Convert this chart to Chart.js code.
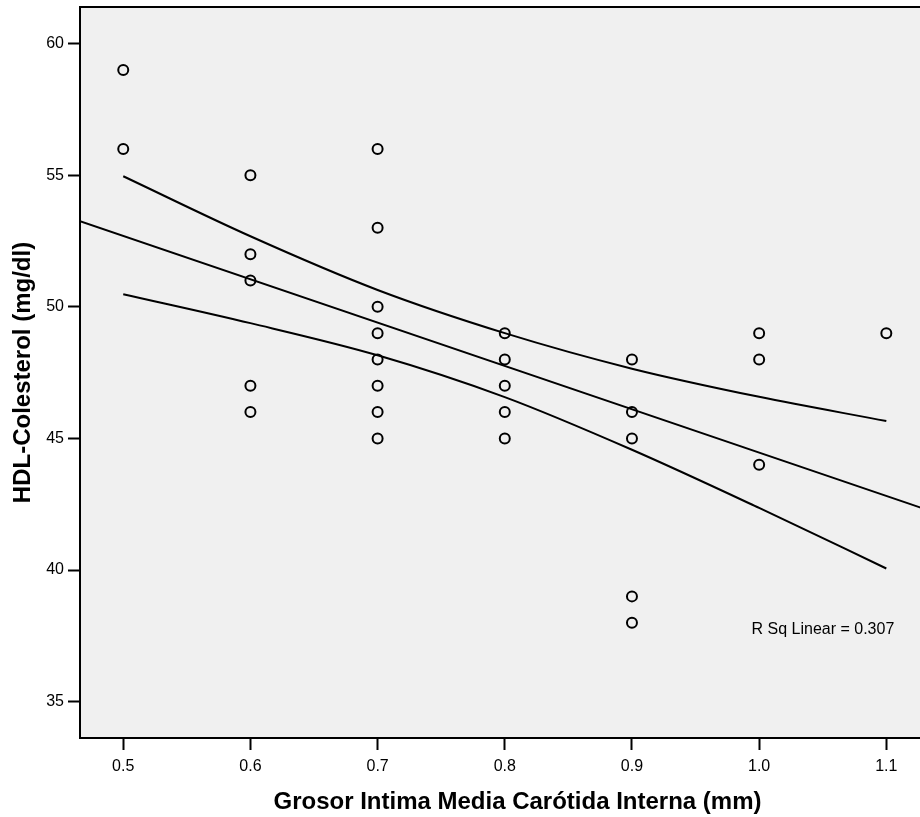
<!DOCTYPE html>
<html>
<head>
<meta charset="utf-8">
<script src="https://cdn.jsdelivr.net/npm/chart.js@4/dist/chart.umd.min.js"></script>
<style>
  html, body { margin: 0; padding: 0; background: #fff; overflow: hidden; }
  #frame { width: 920px; height: 817px; overflow: hidden; position: relative; }
  #inner { width: 962px; height: 817px; }
</style>
</head>
<body>
<div id="frame"><div id="inner"><canvas id="chart"></canvas></div></div>
<script>
// observed points (Grosor Intima Media, HDL)
const gimc = [
    0.5, 0.5,
    0.6, 0.6, 0.6, 0.6, 0.6,
    0.7, 0.7, 0.7, 0.7, 0.7, 0.7, 0.7, 0.7,
    0.8, 0.8, 0.8, 0.8, 0.8,
    0.9, 0.9, 0.9, 0.9, 0.9,
    1.0, 1.0, 1.0,
    1.1
];
const hdl = [
    59, 56,
    55, 52, 51, 47, 46,
    56, 53, 50, 49, 48, 47, 46, 45,
    49, 48, 47, 46, 45,
    48, 46, 45, 39, 38,
    49, 48, 44,
    49
];

// fit line, read at the plot edges
const fitX = [0.466, 1.127];
const fitY = [53.25, 42.37];

// 95% band
const bandX = [0.5, 0.6, 0.7, 0.8, 0.9, 1.0, 1.1];
const bandUpper = [54.96, 52.68, 50.64, 49.0, 47.65, 46.58, 45.66];
const bandLower = [50.48, 49.38, 48.16, 46.57, 44.57, 42.36, 40.06];

const xTicks = [0.5, 0.6, 0.7, 0.8, 0.9, 1.0, 1.1];
const yTicks = [35, 40, 45, 50, 55, 60];

const rsqText = "R Sq Linear = 0.307";
const rsqAt = { x: 0.994, y: 37.73 };

const FONT = "'Liberation Sans', Arial, sans-serif";

const toPoints = (xs, ys) => xs.map((x, i) => ({ x: x, y: ys[i] }));

const plotFrame = {
    id: "plotFrame",
    beforeDraw(chart) {
        const { ctx, chartArea: a } = chart;
        ctx.save();
        ctx.fillStyle = "#f0f0f0";
        ctx.fillRect(a.left, a.top, a.right - a.left, a.bottom - a.top);
        ctx.restore();
    },
    afterDraw(chart) {
        const { ctx, chartArea: a, scales } = chart;
        ctx.save();
        ctx.strokeStyle = "#000";
        ctx.lineWidth = 2;
        ctx.beginPath();
        ctx.moveTo(a.left, a.top);
        ctx.lineTo(a.right, a.top);
        ctx.lineTo(a.right, a.bottom);
        ctx.stroke();

        ctx.fillStyle = "#000";
        ctx.font = "16px " + FONT;
        ctx.textAlign = "left";
        ctx.textBaseline = "middle";
        ctx.fillText(rsqText, scales.x.getPixelForValue(rsqAt.x), scales.y.getPixelForValue(rsqAt.y));
        ctx.restore();
    }
};

const lineStyle = {
    type: "line",
    showLine: true,
    borderColor: "#000",
    borderWidth: 2,
    pointRadius: 0,
    fill: false
};

const noPad = (s) => {
    s.paddingTop = 0;
    s.paddingBottom = 0;
    s.paddingLeft = 0;
    s.paddingRight = 0;
};

new Chart(document.getElementById("chart"), {
    type: "scatter",
    data: {
        datasets: [
            {
                label: "HDL",
                data: toPoints(gimc, hdl),
                pointStyle: "circle",
                pointRadius: 5,
                pointBorderWidth: 2,
                pointBorderColor: "#000",
                pointBackgroundColor: "rgba(0,0,0,0)"
            },
            Object.assign({ label: "Fit", data: toPoints(fitX, fitY) }, lineStyle),
            Object.assign({ label: "Upper", data: toPoints(bandX, bandUpper), cubicInterpolationMode: "monotone" }, lineStyle),
            Object.assign({ label: "Lower", data: toPoints(bandX, bandLower), cubicInterpolationMode: "monotone" }, lineStyle)
        ]
    },
    options: {
        responsive: true,
        maintainAspectRatio: false,
        animation: false,
        layout: { padding: { top: 6, left: 0, right: 0, bottom: 0 } },
        plugins: {
            legend: { display: false },
            tooltip: { enabled: false }
        },
        scales: {
            x: {
                type: "linear",
                min: 0.466,
                max: 1.154,
                afterBuildTicks: (s) => { s.ticks = xTicks.map((v) => ({ value: v })); },
                afterFit: (s) => { s.height = 79; noPad(s); },
                ticks: {
                    callback: (v) => Number(v).toFixed(1),
                    color: "#000",
                    font: { family: FONT, size: 16 },
                    padding: 7,
                    maxRotation: 0,
                    autoSkip: false
                },
                grid: {
                    drawOnChartArea: false,
                    drawTicks: true,
                    tickLength: 12,
                    tickWidth: 2,
                    tickColor: "#000"
                },
                border: { display: true, color: "#000", width: 2 },
                title: {
                    display: true,
                    text: "Grosor Intima Media Carótida Interna (mm)",
                    color: "#000",
                    font: { family: FONT, size: 24, weight: "bold" },
                    padding: { top: 0, bottom: 0 }
                }
            },
            y: {
                type: "linear",
                min: 33.62,
                max: 61.39,
                afterBuildTicks: (s) => { s.ticks = yTicks.map((v) => ({ value: v })); },
                afterFit: (s) => { s.width = 80; noPad(s); },
                ticks: {
                    callback: (v) => String(v),
                    color: "#000",
                    font: { family: FONT, size: 16 },
                    padding: 4,
                    autoSkip: false
                },
                grid: {
                    drawOnChartArea: false,
                    drawTicks: true,
                    tickLength: 12,
                    tickWidth: 2,
                    tickColor: "#000"
                },
                border: { display: true, color: "#000", width: 2 },
                title: {
                    display: true,
                    text: "HDL-Colesterol (mg/dl)",
                    color: "#000",
                    font: { family: FONT, size: 24, weight: "bold" },
                    padding: { top: 9, bottom: 0 }
                }
            }
        }
    },
    plugins: [plotFrame]
});
</script>
</body>
</html>
